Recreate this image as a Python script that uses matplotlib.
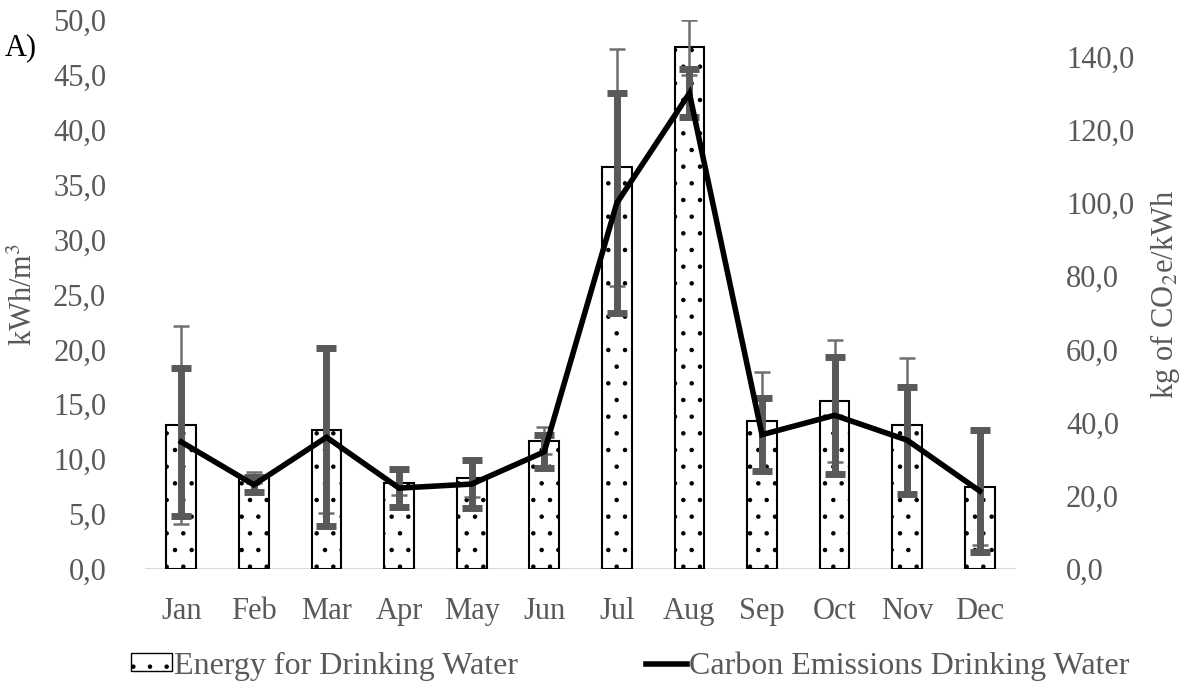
import matplotlib
matplotlib.use("Agg")
import matplotlib.pyplot as plt
from matplotlib.lines import Line2D
from matplotlib.patches import Patch
import numpy as np

plt.rcParams['font.family'] = ['Liberation Serif', 'DejaVu Serif']
plt.rcParams['mathtext.fontset'] = 'stix'
plt.rcParams['hatch.linewidth'] = 0.8

months = ['Jan', 'Feb', 'Mar', 'Apr', 'May', 'Jun',
          'Jul', 'Aug', 'Sep', 'Oct', 'Nov', 'Dec']

# energy (kWh/m3) and its error
energy = [13.1, 8.3, 12.7, 7.8, 8.3, 11.7, 36.6, 47.5, 13.5, 15.3, 13.1, 7.5]
energy_err = [9.0, 0.5, 7.6, 1.1, 1.7, 1.2, 10.8, 2.5, 4.4, 5.6, 6.1, 5.3]

# carbon emissions (kg CO2e/kWh) and its error
carbon = [34.7, 23.0, 36.0, 22.1, 23.2, 32.0, 100.0, 130.0, 36.7, 42.0, 35.2, 21.3]
carbon_err = [20.3, 2.0, 24.3, 5.2, 6.5, 4.5, 30.0, 6.5, 10.0, 16.0, 14.6, 16.7]

grey = '#595959'
fs = 22
x = np.arange(len(months))

fig = plt.figure(figsize=(11.82, 6.88), dpi=100)
ax = fig.add_axes([0.1227, 0.1730, 0.7369, 0.7979])
ax2 = ax.twinx()

ax.bar(x, energy, width=0.41, color='white', edgecolor='black',
       linewidth=1.5, hatch='.', zorder=2)
ax.errorbar(x, energy, yerr=energy_err, fmt='none', ecolor='#707070',
            elinewidth=1.8, capsize=6, capthick=1.8, zorder=3)

ax2.errorbar(x, carbon, yerr=carbon_err, fmt='none', ecolor=grey,
             elinewidth=5, capsize=7, capthick=5, zorder=3)
ax2.plot(x, carbon, color='black', lw=4, zorder=4, solid_joinstyle='miter')

ax.set_xlim(-0.5, 11.5)
ax.set_ylim(0, 50)
ax2.set_ylim(0, 150)
ax.set_yticks(np.arange(0, 50.1, 5))
ax2.set_yticks(np.arange(0, 141, 20))
ax.set_yticklabels([f'{v:.1f}'.replace('.', ',') for v in np.arange(0, 50.1, 5)])
ax2.set_yticklabels([f'{v:.1f}'.replace('.', ',') for v in np.arange(0, 141, 20)])
ax.set_xticks(x)
ax.set_xticklabels(months)

for a in (ax, ax2):
    for s in ('top', 'left', 'right', 'bottom'):
        a.spines[s].set_visible(False)
    a.tick_params(length=0, labelsize=fs, labelcolor=grey)
ax.axhline(0, color='#d9d9d9', lw=1.5, zorder=1)
ax.tick_params(axis='y', pad=28)
ax.tick_params(axis='x', pad=20)
ax2.tick_params(axis='y', pad=36)

ax.set_ylabel('kWh/m$^3$', fontsize=fs, color=grey, labelpad=10)
ax2.set_ylabel('kg of CO$_2$e/kWh', fontsize=fs, color=grey, labelpad=10)

fig.text(0.004, 0.92, 'A)', fontsize=fs, color='black')

handles = [Patch(facecolor='white', edgecolor='black', hatch='.', linewidth=1),
           Line2D([0], [0], color='black', lw=4)]
fig.legend(handles, ['Energy for Drinking Water', 'Carbon Emissions Drinking Water'],
           loc='center', bbox_to_anchor=(0.533, 0.032), ncol=2, frameon=False,
           fontsize=23, labelcolor=grey, handlelength=1.3, handleheight=0.5,
           handletextpad=0.05, columnspacing=4.0)

fig.savefig('out.png', dpi=100)
